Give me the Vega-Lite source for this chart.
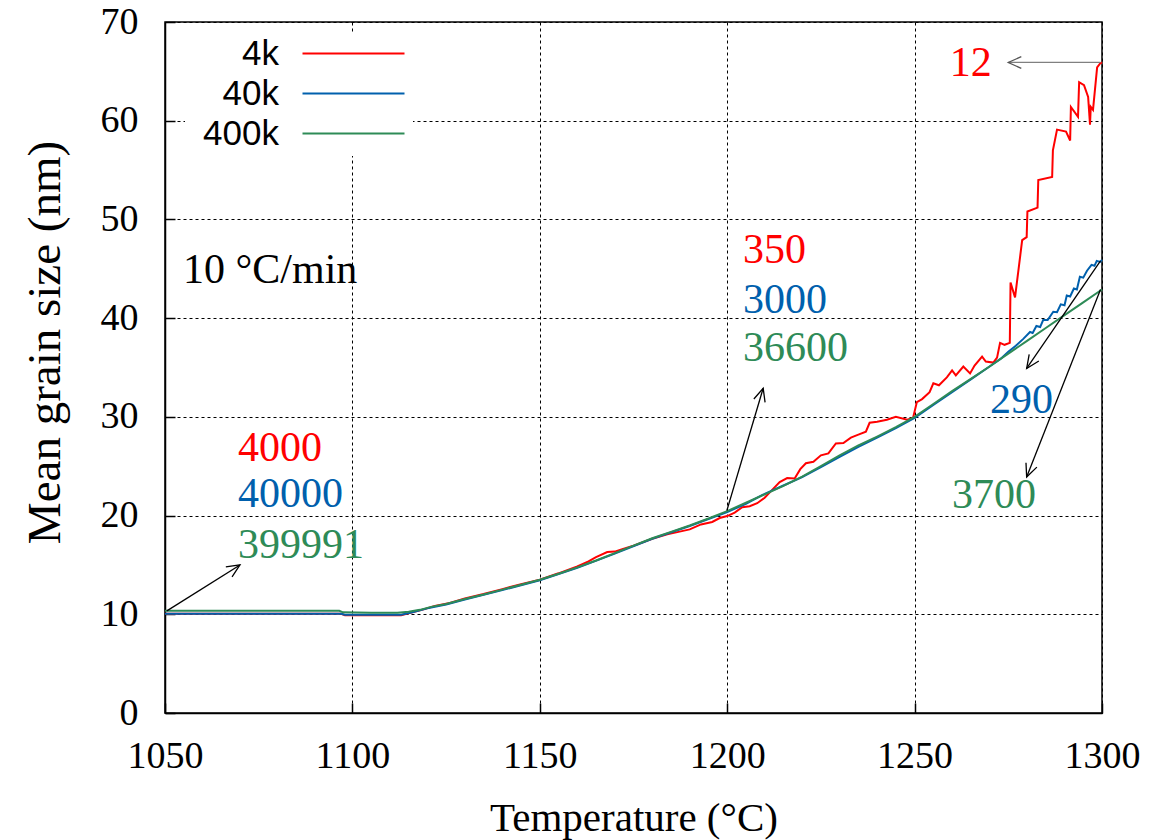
{
  "$schema": "https://vega.github.io/schema/vega-lite/v6.json",
  "width": 937,
  "height": 691,
  "autosize": {"type": "none"},
  "padding": {"left": 165, "top": 22, "right": 56, "bottom": 127},
  "background": "white",
  "config": {
    "view": {"stroke": "black", "strokeWidth": 1.5},
    "axis": {
      "labelFont": "Liberation Serif", "labelFontSize": 38, "labelColor": "black", "labelFlush": false,
      "titleFont": "Liberation Serif", "titleFontSize": 44, "titleFontWeight": "normal", "titleColor": "black",
      "domainColor": "black", "domainWidth": 1.5, "tickColor": "black", "tickWidth": 1.5,
      "gridColor": "black", "gridDash": [3, 3], "gridOpacity": 1, "gridWidth": 1
    }
  },
  "datasets": {
    "curves": [
      {"series":"4k","temperature":1050,"size":10.05},{"series":"4k","temperature":1097,"size":10.05},{"series":"4k","temperature":1098,"size":9.9},{"series":"4k","temperature":1113,"size":9.9},{"series":"4k","temperature":1116,"size":10.2},{"series":"4k","temperature":1119,"size":10.5},{"series":"4k","temperature":1122,"size":10.85},{"series":"4k","temperature":1126,"size":11.15},{"series":"4k","temperature":1130,"size":11.6},{"series":"4k","temperature":1135,"size":12.05},{"series":"4k","temperature":1140,"size":12.55},{"series":"4k","temperature":1145,"size":13.05},{"series":"4k","temperature":1150,"size":13.5},{"series":"4k","temperature":1155,"size":14.15},{"series":"4k","temperature":1160,"size":14.85},{"series":"4k","temperature":1163,"size":15.35},{"series":"4k","temperature":1165,"size":15.8},{"series":"4k","temperature":1168,"size":16.3},{"series":"4k","temperature":1170,"size":16.35},{"series":"4k","temperature":1172,"size":16.6},{"series":"4k","temperature":1175,"size":16.95},{"series":"4k","temperature":1180,"size":17.65},{"series":"4k","temperature":1184,"size":18.1},{"series":"4k","temperature":1187,"size":18.35},{"series":"4k","temperature":1190,"size":18.6},{"series":"4k","temperature":1193,"size":19.1},{"series":"4k","temperature":1196,"size":19.35},{"series":"4k","temperature":1198,"size":19.75},{"series":"4k","temperature":1200,"size":19.95},{"series":"4k","temperature":1202,"size":20.3},{"series":"4k","temperature":1204,"size":20.85},{"series":"4k","temperature":1206,"size":20.95},{"series":"4k","temperature":1208,"size":21.25},{"series":"4k","temperature":1210,"size":21.8},{"series":"4k","temperature":1212,"size":22.6},{"series":"4k","temperature":1214,"size":23.4},{"series":"4k","temperature":1216,"size":23.8},{"series":"4k","temperature":1218,"size":23.75},{"series":"4k","temperature":1219.5,"size":24.7},{"series":"4k","temperature":1221,"size":25.3},{"series":"4k","temperature":1223,"size":25.45},{"series":"4k","temperature":1225,"size":26.1},{"series":"4k","temperature":1227,"size":26.3},{"series":"4k","temperature":1229,"size":27.3},{"series":"4k","temperature":1231,"size":27.35},{"series":"4k","temperature":1233,"size":27.9},{"series":"4k","temperature":1235,"size":28.2},{"series":"4k","temperature":1237,"size":28.5},{"series":"4k","temperature":1238,"size":29.4},{"series":"4k","temperature":1240,"size":29.5},{"series":"4k","temperature":1242.6,"size":29.7},{"series":"4k","temperature":1245,"size":30.0},{"series":"4k","temperature":1248,"size":29.7},{"series":"4k","temperature":1249.6,"size":29.9},{"series":"4k","temperature":1250.6,"size":31.5},{"series":"4k","temperature":1252,"size":31.8},{"series":"4k","temperature":1254,"size":32.5},{"series":"4k","temperature":1255,"size":33.4},{"series":"4k","temperature":1256.5,"size":33.2},{"series":"4k","temperature":1258.6,"size":34.0},{"series":"4k","temperature":1260,"size":34.7},{"series":"4k","temperature":1261,"size":34.2},{"series":"4k","temperature":1263,"size":35.1},{"series":"4k","temperature":1264.8,"size":34.4},{"series":"4k","temperature":1266,"size":35.2},{"series":"4k","temperature":1268,"size":36.1},{"series":"4k","temperature":1269,"size":35.6},{"series":"4k","temperature":1271,"size":35.5},{"series":"4k","temperature":1272,"size":36.0},{"series":"4k","temperature":1272.8,"size":37.5},{"series":"4k","temperature":1274,"size":37.3},{"series":"4k","temperature":1275.4,"size":37.5},{"series":"4k","temperature":1275.6,"size":43.6},{"series":"4k","temperature":1276.8,"size":42.1},{"series":"4k","temperature":1278.7,"size":47.9},{"series":"4k","temperature":1279.9,"size":48.2},{"series":"4k","temperature":1280.1,"size":50.8},{"series":"4k","temperature":1282.8,"size":51.2},{"series":"4k","temperature":1283.0,"size":54.0},{"series":"4k","temperature":1286.7,"size":54.3},{"series":"4k","temperature":1286.9,"size":57.0},{"series":"4k","temperature":1288.0,"size":59.1},{"series":"4k","temperature":1290.4,"size":58.9},{"series":"4k","temperature":1291.5,"size":58.0},{"series":"4k","temperature":1291.7,"size":61.4},{"series":"4k","temperature":1293.6,"size":60.4},{"series":"4k","temperature":1293.9,"size":63.9},{"series":"4k","temperature":1295.2,"size":63.6},{"series":"4k","temperature":1296.3,"size":62.4},{"series":"4k","temperature":1296.8,"size":59.6},{"series":"4k","temperature":1297.0,"size":61.4},{"series":"4k","temperature":1297.6,"size":61.1},{"series":"4k","temperature":1298.7,"size":65.4},{"series":"4k","temperature":1299.5,"size":65.8},{"series":"4k","temperature":1300,"size":65.9},
      {"series":"40k","temperature":1050,"size":10.05},{"series":"40k","temperature":1097,"size":10.05},{"series":"40k","temperature":1098,"size":9.95},{"series":"40k","temperature":1113,"size":9.95},{"series":"40k","temperature":1116,"size":10.2},{"series":"40k","temperature":1120,"size":10.6},{"series":"40k","temperature":1125,"size":11.0},{"series":"40k","temperature":1130,"size":11.5},{"series":"40k","temperature":1140,"size":12.45},{"series":"40k","temperature":1150,"size":13.45},{"series":"40k","temperature":1160,"size":14.7},{"series":"40k","temperature":1170,"size":16.15},{"series":"40k","temperature":1180,"size":17.65},{"series":"40k","temperature":1190,"size":18.95},{"series":"40k","temperature":1200,"size":20.35},{"series":"40k","temperature":1205,"size":21.2},{"series":"40k","temperature":1210,"size":22.2},{"series":"40k","temperature":1215,"size":23.05},{"series":"40k","temperature":1220,"size":23.9},{"series":"40k","temperature":1225,"size":24.9},{"series":"40k","temperature":1230,"size":25.95},{"series":"40k","temperature":1235,"size":26.95},{"series":"40k","temperature":1240,"size":27.9},{"series":"40k","temperature":1245,"size":28.85},{"series":"40k","temperature":1250,"size":29.9},{"series":"40k","temperature":1255,"size":31.2},{"series":"40k","temperature":1260,"size":32.5},{"series":"40k","temperature":1265,"size":33.8},{"series":"40k","temperature":1270,"size":35.1},{"series":"40k","temperature":1273,"size":35.9},{"series":"40k","temperature":1275,"size":36.6},{"series":"40k","temperature":1277,"size":37.2},{"series":"40k","temperature":1279,"size":37.9},{"series":"40k","temperature":1280.8,"size":38.6},{"series":"40k","temperature":1281.5,"size":38.5},{"series":"40k","temperature":1282.5,"size":39.2},{"series":"40k","temperature":1283.5,"size":39.1},{"series":"40k","temperature":1284.3,"size":39.8},{"series":"40k","temperature":1285.5,"size":39.8},{"series":"40k","temperature":1287,"size":40.65},{"series":"40k","temperature":1288,"size":40.6},{"series":"40k","temperature":1289,"size":41.4},{"series":"40k","temperature":1290,"size":41.3},{"series":"40k","temperature":1290.6,"size":42.3},{"series":"40k","temperature":1291.5,"size":42.2},{"series":"40k","temperature":1292.5,"size":43.0},{"series":"40k","temperature":1293.3,"size":42.9},{"series":"40k","temperature":1294.1,"size":44.2},{"series":"40k","temperature":1295,"size":44.1},{"series":"40k","temperature":1296,"size":44.8},{"series":"40k","temperature":1297.2,"size":45.4},{"series":"40k","temperature":1298,"size":45.3},{"series":"40k","temperature":1298.6,"size":45.8},{"series":"40k","temperature":1299.5,"size":45.7},{"series":"40k","temperature":1300,"size":45.9},
      {"series":"400k","temperature":1050,"size":10.35},{"series":"400k","temperature":1070,"size":10.35},{"series":"400k","temperature":1096.5,"size":10.35},{"series":"400k","temperature":1097.5,"size":10.2},{"series":"400k","temperature":1105,"size":10.15},{"series":"400k","temperature":1112,"size":10.15},{"series":"400k","temperature":1115,"size":10.25},{"series":"400k","temperature":1118,"size":10.45},{"series":"400k","temperature":1121,"size":10.75},{"series":"400k","temperature":1125,"size":11.05},{"series":"400k","temperature":1130,"size":11.55},{"series":"400k","temperature":1135,"size":12.0},{"series":"400k","temperature":1140,"size":12.5},{"series":"400k","temperature":1145,"size":13.0},{"series":"400k","temperature":1150,"size":13.5},{"series":"400k","temperature":1155,"size":14.1},{"series":"400k","temperature":1160,"size":14.75},{"series":"400k","temperature":1165,"size":15.45},{"series":"400k","temperature":1170,"size":16.2},{"series":"400k","temperature":1175,"size":16.95},{"series":"400k","temperature":1180,"size":17.7},{"series":"400k","temperature":1185,"size":18.35},{"series":"400k","temperature":1190,"size":19.0},{"series":"400k","temperature":1195,"size":19.7},{"series":"400k","temperature":1200,"size":20.45},{"series":"400k","temperature":1205,"size":21.3},{"series":"400k","temperature":1210,"size":22.15},{"series":"400k","temperature":1215,"size":23.0},{"series":"400k","temperature":1220,"size":23.95},{"series":"400k","temperature":1225,"size":25.0},{"series":"400k","temperature":1230,"size":26.1},{"series":"400k","temperature":1235,"size":27.1},{"series":"400k","temperature":1240,"size":28.0},{"series":"400k","temperature":1245,"size":28.95},{"series":"400k","temperature":1250,"size":30.0},{"series":"400k","temperature":1255,"size":31.3},{"series":"400k","temperature":1260,"size":32.6},{"series":"400k","temperature":1265,"size":33.85},{"series":"400k","temperature":1270,"size":35.1},{"series":"400k","temperature":1275,"size":36.4},{"series":"400k","temperature":1280,"size":37.7},{"series":"400k","temperature":1285,"size":39.0},{"series":"400k","temperature":1290,"size":40.3},{"series":"400k","temperature":1295,"size":41.6},{"series":"400k","temperature":1300,"size":42.9}
    ],
    "labels": [
      {"text":"12","series":"4k","temperature":1259.4,"size":65.85},
      {"text":"350","series":"4k","temperature":1204.2,"size":46.9},
      {"text":"3000","series":"40k","temperature":1204.2,"size":41.84},
      {"text":"36600","series":"400k","temperature":1204.2,"size":36.98},
      {"text":"290","series":"40k","temperature":1270.1,"size":31.7},
      {"text":"3700","series":"400k","temperature":1260.0,"size":22.08},
      {"text":"4000","series":"4k","temperature":1069.5,"size":26.85},
      {"text":"40000","series":"40k","temperature":1069.5,"size":22.19},
      {"text":"399991","series":"400k","temperature":1069.5,"size":17.02}
    ],
    "note": [
      {"text":"10 °C/min","temperature":1054.8,"size":44.9}
    ],
    "arrows": [
      {"target":"12","t1":1299.6,"g1":65.9,"t2":1275.0,"g2":65.9,"angle":180},
      {"target":"36600","t1":1199.9,"g1":20.5,"t2":1209.6,"g2":32.9,"angle":-73.4},
      {"target":"399991","t1":1050.5,"g1":10.35,"t2":1070.0,"g2":15.0,"angle":-32.1},
      {"target":"290","t1":1299.6,"g1":45.8,"t2":1279.9,"g2":34.9,"angle":124.4},
      {"target":"3700","t1":1299.6,"g1":42.9,"t2":1279.9,"g2":23.9,"angle":111.5}
    ]
  },
  "layer": [
    {
      "data": {"name": "curves"},
      "mark": {"type": "line", "strokeWidth": 2, "interpolate": "linear"},
      "encoding": {
        "x": {
          "field": "temperature", "type": "quantitative",
          "scale": {"domain": [1050, 1300], "nice": false, "zero": false},
          "axis": {"values": [1050, 1100, 1150, 1200, 1250, 1300], "format": "d", "title": "Temperature (°C)", "titleFontSize": 41, "grid": true, "tickSize": -10, "labelPadding": 34, "titleY": 105, "titleBaseline": "middle"}
        },
        "y": {
          "field": "size", "type": "quantitative",
          "scale": {"domain": [0, 70], "nice": false},
          "axis": {"values": [0, 10, 20, 30, 40, 50, 60, 70], "format": "d", "title": "Mean grain size (nm)", "titleFontSize": 47, "grid": true, "tickSize": -10, "labelPadding": 37, "titleX": -120, "titleY": 320, "titleBaseline": "middle"}
        },
        "color": {
          "field": "series", "type": "nominal",
          "scale": {"domain": ["4k", "40k", "400k"], "range": ["#ff0000", "#0060ad", "#2e8b57"]},
          "legend": {
            "title": null, "orient": "none", "legendX": 20, "legendY": 10,
            "direction": "vertical",
            "labelFont": "Liberation Sans", "labelFontSize": 35, "labelColor": "black",
            "labelAlign": "right", "labelOffset": -92,
            "symbolType": "M-6,0H6", "symbolSize": 289, "symbolStrokeWidth": 2, "symbolOffset": 147,
            "rowPadding": 4, "fillColor": "white", "padding": 4
          }
        }
      }
    },
    {
      "data": {"name": "arrows"},
      "mark": {"type": "rule", "strokeWidth": 1.3},
      "encoding": {
        "x": {"field": "t1", "type": "quantitative"},
        "y": {"field": "g1", "type": "quantitative"},
        "x2": {"field": "t2"},
        "y2": {"field": "g2"},
        "color": {"condition": {"test": "datum.target === '12'", "value": "#808080"}, "value": "black"}
      }
    },
    {
      "data": {"name": "arrows"},
      "mark": {"type": "point", "shape": "M-1,-0.45L0,0L-1,0.45", "filled": false, "strokeWidth": 1.3, "size": 676, "opacity": 1},
      "encoding": {
        "x": {"field": "t2", "type": "quantitative"},
        "y": {"field": "g2", "type": "quantitative"},
        "angle": {"field": "angle", "type": "quantitative", "scale": null},
        "color": {"condition": {"test": "datum.target === '12'", "value": "#555555"}, "value": "black"}
      }
    },
    {
      "data": {"name": "labels"},
      "mark": {"type": "text", "font": "Liberation Serif", "fontSize": 42, "align": "left", "baseline": "middle"},
      "encoding": {
        "x": {"field": "temperature", "type": "quantitative"},
        "y": {"field": "size", "type": "quantitative"},
        "text": {"field": "text"},
        "color": {"field": "series", "type": "nominal", "legend": null}
      }
    },
    {
      "data": {"name": "note"},
      "mark": {"type": "text", "font": "Liberation Serif", "fontSize": 42, "align": "left", "baseline": "middle", "color": "black"},
      "encoding": {
        "x": {"field": "temperature", "type": "quantitative"},
        "y": {"field": "size", "type": "quantitative"},
        "text": {"field": "text"}
      }
    }
  ]
}
